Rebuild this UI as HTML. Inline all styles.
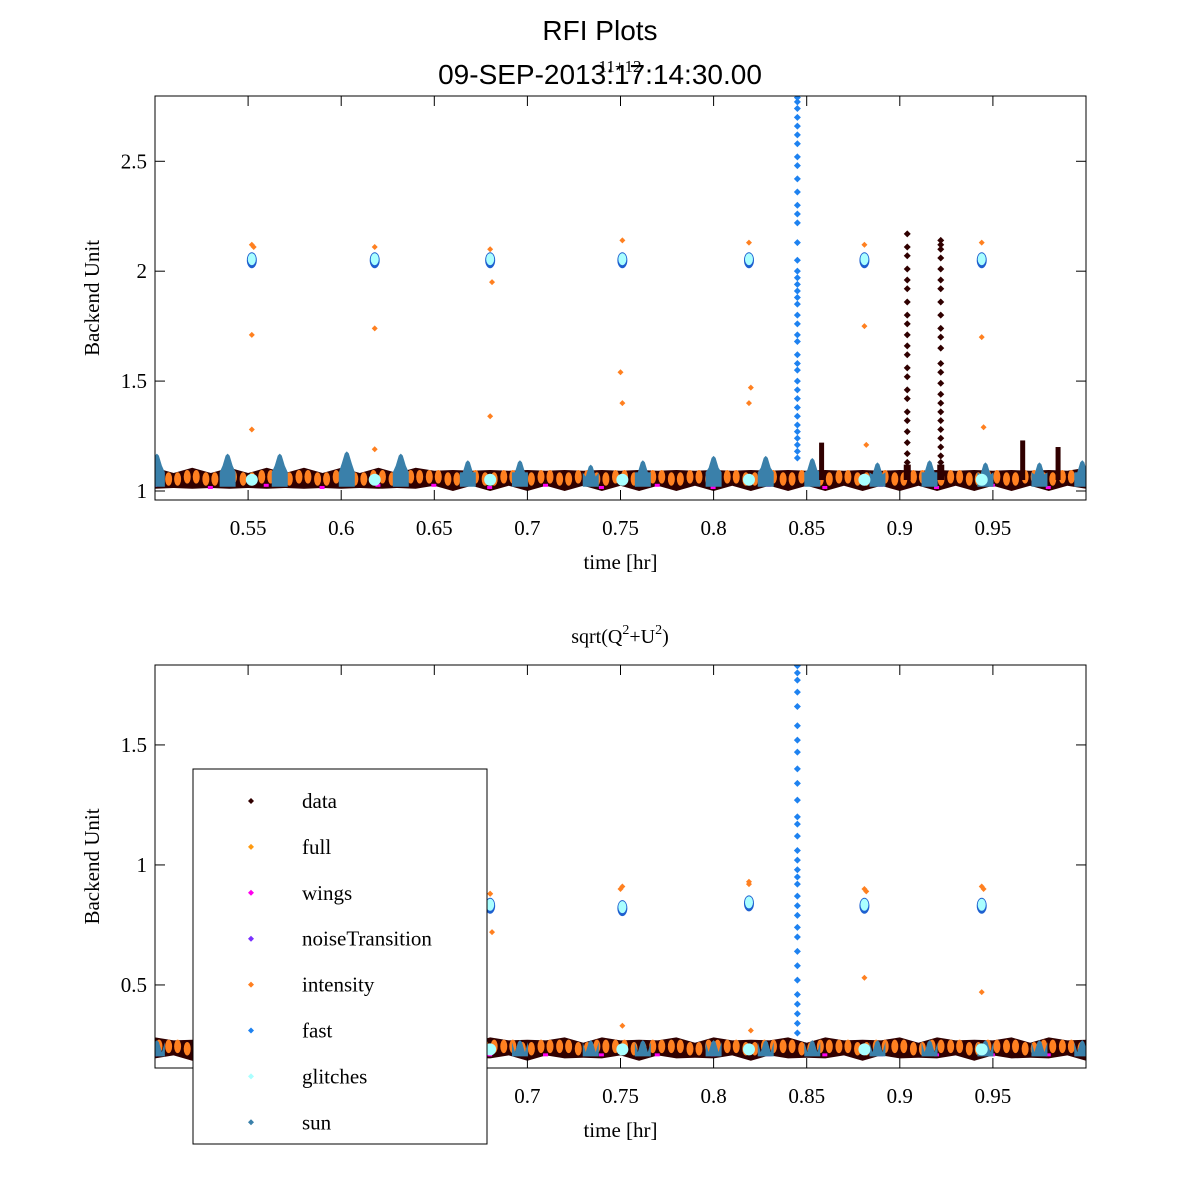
<!DOCTYPE html>
<html><head><meta charset="utf-8"><title>RFI Plots</title>
<style>
html,body{margin:0;padding:0;background:#fff;}
svg{display:block;}
text{font-family:"Liberation Serif",serif;fill:#000;}
.sans{font-family:"Liberation Sans",sans-serif;}
</style></head>
<body>
<svg id="fig" width="1200" height="1200" viewBox="0 0 1200 1200" xmlns="http://www.w3.org/2000/svg">
<rect width="1200" height="1200" fill="#fff"/>
<text class="sans" x="600" y="40" font-size="28" text-anchor="middle">RFI Plots</text>
<text class="sans" x="600" y="84" font-size="28" text-anchor="middle">09-SEP-2013:17:14:30.00</text>
<text x="620" y="72" font-size="17" text-anchor="middle">11+12</text>
<g id="top"></g>
<g id="bot"></g>
<text x="620" y="643" font-size="20" text-anchor="middle">sqrt(Q<tspan font-size="14" dy="-9">2</tspan><tspan dy="9">+U</tspan><tspan font-size="14" dy="-9">2</tspan><tspan dy="9">)</tspan></text>
<g id="legend"></g>
</svg>
<script>
// ---- data arrays ----
const bandT = [0.50,0.51,0.52,0.53,0.54,0.55,0.56,0.57,0.58,0.59,0.60,0.61,0.62,0.63,0.64,0.65,0.66,0.67,0.68,0.69,0.70,0.71,0.72,0.73,0.74,0.75,0.76,0.77,0.78,0.79,0.80,0.81,0.82,0.83,0.84,0.85,0.86,0.87,0.88,0.89,0.90,0.91,0.92,0.93,0.94,0.95,0.96,0.97,0.98,0.99,1.00];
const bandTop = [1.06,1.05,1.06,1.05,1.06,1.05,1.06,1.05,1.06,1.05,1.06,1.05,1.06,1.05,1.06,1.06,1.05,1.06,1.05,1.06,1.05,1.06,1.05,1.06,1.05,1.06,1.05,1.06,1.05,1.06,1.05,1.06,1.05,1.06,1.05,1.06,1.05,1.06,1.05,1.06,1.05,1.06,1.05,1.06,1.05,1.06,1.05,1.06,1.05,1.06,1.06];
const bandBot = [0.24,0.24,0.23,0.24,0.24,0.23,0.24,0.24,0.23,0.24,0.24,0.23,0.24,0.24,0.23,0.24,0.24,0.23,0.24,0.24,0.23,0.24,0.24,0.23,0.24,0.24,0.23,0.24,0.24,0.23,0.24,0.24,0.23,0.24,0.24,0.23,0.24,0.24,0.23,0.24,0.24,0.23,0.24,0.24,0.23,0.24,0.24,0.23,0.24,0.24,0.23];
const sunT = [0.501,0.539,0.567,0.603,0.632,0.668,0.696,0.734,0.762,0.800,0.828,0.853,0.888,0.916,0.946,0.975,0.998];
const sunPeakTop = [1.17,1.17,1.17,1.18,1.17,1.14,1.14,1.12,1.14,1.16,1.16,1.15,1.13,1.14,1.13,1.13,1.14];
const sunPeakBot = [0.27,0.27,0.27,0.28,0.27,0.27,0.27,0.27,0.27,0.27,0.27,0.27,0.27,0.27,0.27,0.27,0.27];
const clusterT = [0.552,0.618,0.680,0.751,0.819,0.881,0.944];
const clusterTop = [2.05,2.05,2.05,2.05,2.05,2.05,2.05];
const clusterBot = [0.83,0.83,0.83,0.82,0.84,0.83,0.83];
const outT = [0.552,0.552,0.553,0.618,0.618,0.680,0.681,0.750,0.751,0.819,0.820,0.881,0.882,0.944,0.945,0.552,0.618,0.680,0.751,0.819,0.881,0.944];
const outTop = [1.71,1.28,2.11,1.74,1.19,1.34,1.95,1.54,1.40,1.40,1.47,1.75,1.21,1.70,1.29,2.12,2.11,2.10,2.14,2.13,2.12,2.13];
const outBot = [0.90,0.88,0.92,0.89,0.30,0.88,0.72,0.90,0.33,0.92,0.31,0.53,0.89,0.47,0.90,0.89,0.88,0.88,0.91,0.93,0.90,0.91];
const fastT = 0.845;
const fastTop = [2.79,2.77,2.74,2.70,2.66,2.62,2.58,2.52,2.48,2.42,2.36,2.30,2.26,2.22,2.13,2.05,2.00,1.97,1.94,1.91,1.88,1.85,1.80,1.76,1.71,1.68,1.62,1.58,1.55,1.50,1.46,1.42,1.38,1.34,1.30,1.27,1.24,1.21,1.18,1.15];
const fastBot = [1.83,1.80,1.77,1.72,1.66,1.58,1.52,1.47,1.40,1.34,1.27,1.20,1.17,1.12,1.06,1.02,0.98,0.95,0.92,0.87,0.83,0.79,0.74,0.70,0.64,0.58,0.52,0.46,0.42,0.38,0.34,0.30];
const dataSpikeT = [0.904,0.922];
const dataSpikeA = [2.17,2.11,2.07,2.01,1.96,1.92,1.86,1.80,1.76,1.71,1.66,1.62,1.56,1.52,1.46,1.42,1.36,1.32,1.27,1.22,1.17,1.13];
const dataSpikeB = [2.14,2.12,2.10,2.06,2.01,1.96,1.92,1.86,1.80,1.74,1.70,1.65,1.58,1.54,1.49,1.44,1.40,1.36,1.32,1.28,1.24,1.20,1.16,1.13];
const smallSpikeT = [0.858,0.966,0.985];
const smallSpikeV = [1.22,1.23,1.20];
const xTicks = [0.55,0.6,0.65,0.7,0.75,0.8,0.85,0.9,0.95];
const xTickLabels = ["0.55","0.6","0.65","0.7","0.75","0.8","0.85","0.9","0.95"];
const yTicksTop = [1,1.5,2,2.5];
const yTickLabelsTop = ["1","1.5","2","2.5"];
const yTicksBot = [0.5,1,1.5];
const yTickLabelsBot = ["0.5","1","1.5"];
const legendLabels = ["data","full","wings","noiseTransition","intensity","fast","glitches","sun"];
const legendColors = ["#300000","#ff9a10","#ff00ee","#7a30ff","#ff7f20","#1e82f0","#aaffff","#3a80aa"];

const NS="http://www.w3.org/2000/svg";
function mk(parent,tag,attrs){const e=document.createElementNS(NS,tag);for(const k in attrs)e.setAttribute(k,attrs[k]);parent.appendChild(e);return e;}

function drawPlot(g,cfg){
  const {x0,x1,y0,y1,ymin,ymax}=cfg;
  const sx=t=>x0+(t-0.5)/(1.0-0.5)*(x1-x0);
  const sy=v=>y1-(v-ymin)/(ymax-ymin)*(y1-y0);
  const clip="clip"+cfg.id;
  const defs=mk(g,"defs",{});const cp=mk(defs,"clipPath",{id:clip});mk(cp,"rect",{x:x0,y:y0,width:x1-x0,height:y1-y0});
  const m=mk(g,"g",{"clip-path":"url(#"+clip+")"});
  
  
  const dia=(cx,cy,c,r)=>{const p=mk(m,"path",{d:`M${cx} ${cy-r}L${cx+r} ${cy}L${cx} ${cy+r}L${cx-r} ${cy}Z`,fill:c});return p;};
  const band=cfg.band;
  const bh=cfg.bandH;
  // dark data band (continuous polygon through band values)
  let up="",dn="";
  for(let i=0;i<bandT.length;i++){
    const x=sx(bandT[i]);
    up+=(i?"L":"M")+x+" "+(sy(band[i])-bh+((i%2)?2:-1));
  }
  for(let i=bandT.length-1;i>=0;i--){
    const x=sx(bandT[i]);
    dn+="L"+x+" "+(sy(band[i])+bh+((i%2)?-1:2));
  }
  const bp=mk(m,"path",{d:up+dn+"Z",fill:"#300000"});
  
  
  // orange blobs
  for(let i=0;i<bandT.length;i++){
    const cx=sx(bandT[i]);
    for(const off of [-5,4]){
      const e=mk(m,"ellipse",{cx:cx+off,cy:sy(band[i])-1,rx:3.5,ry:bh*0.75,fill:"#ff8020"});
      
      
    }
  }
  // magenta hints
  for(let i=0;i<bandT.length;i+=3){
    const e=mk(m,"rect",{x:sx(bandT[i])-3,y:sy(band[i])+bh-3,width:5,height:3,fill:"#ff00ee"});
    
    
  }
  // sun bumps
  const peaks=cfg.sunPeak;
  for(let i=0;i<sunT.length;i++){
    const cx=sx(sunT[i]), top=sy(peaks[i]), base=sy(band[0])+bh;
    const p=mk(m,"path",{d:`M${cx-8} ${base}L${cx-8} ${base-bh*1.6}L${cx-5} ${top+12}L${cx-2} ${top+2}L${cx} ${top}L${cx+2} ${top+2}L${cx+5} ${top+12}L${cx+8} ${base-bh*1.6}L${cx+8} ${base}Z`,fill:"#3a80aa"});
    
    
  }
  // glitch points on band
  for(let i=0;i<clusterT.length;i++){
    const e=mk(m,"ellipse",{cx:sx(clusterT[i]),cy:sy(band[0])+2,rx:6,ry:6,fill:"#aaffff"});
    
    
  }
  // clusters
  const cv=cfg.cluster;
  for(let i=0;i<clusterT.length;i++){
    const cx=sx(clusterT[i]),cy=sy(cv[i]);
    mk(m,"ellipse",{cx:cx,cy:cy,rx:5,ry:8,fill:"#1e60d0"});
    const e=mk(m,"ellipse",{cx:cx,cy:cy-1,rx:4,ry:6,fill:"#aaffff"});
    
    
  }
  const ov=cfg.out;
  for(let i=0;i<outT.length;i++){
    const p=dia(sx(outT[i]),sy(ov[i]),"#ff8020",3);
    
    
  }
  // fast spike
  const fv=cfg.fast;
  for(let i=0;i<fv.length;i++){
    const p=dia(sx(fastT),sy(fv[i]),"#1e82f0",3.5);
    
    
  }
  if(cfg.spikes){
    const arrs=[dataSpikeA,dataSpikeB];
    for(let s=0;s<dataSpikeT.length;s++){
      for(const v of arrs[s]){
        const p=dia(sx(dataSpikeT[s]),sy(v),"#300000",3.5);
        
        
      }
      const r=mk(m,"rect",{x:sx(dataSpikeT[s])-3.5,y:sy(1.12),width:7,height:sy(1.05)-sy(1.12),fill:"#300000"});
      
      
    }
    for(let i=0;i<smallSpikeT.length;i++){
      const r=mk(m,"rect",{x:sx(smallSpikeT[i])-2.5,y:sy(smallSpikeV[i]),width:5,height:sy(1.05)-sy(smallSpikeV[i]),fill:"#300000"});
      
      
    }
  }
  // axes box
  const box=mk(g,"rect",{x:x0,y:y0,width:x1-x0,height:y1-y0,fill:"none",stroke:"#000","stroke-width":1});
  
  
  for(let i=0;i<xTicks.length;i++){
    const x=sx(xTicks[i]);
    mk(g,"line",{x1:x,x2:x,y1:y1,y2:y1-10,stroke:"#000"});
    mk(g,"line",{x1:x,x2:x,y1:y0,y2:y0+10,stroke:"#000"});
    const t=mk(g,"text",{x:x,y:y1+35,"font-size":21,"text-anchor":"middle"});t.textContent=xTickLabels[i];
    
    
  }
  const yt=cfg.yt, yl=cfg.yl;
  for(let i=0;i<yt.length;i++){
    const y=sy(yt[i]);
    mk(g,"line",{x1:x0,x2:x0+10,y1:y,y2:y,stroke:"#000"});
    mk(g,"line",{x1:x1,x2:x1-10,y1:y,y2:y,stroke:"#000"});
    const t=mk(g,"text",{x:x0-8,y:y+7,"font-size":21,"text-anchor":"end"});t.textContent=yl[i];
    
    
  }
  const xl=mk(g,"text",{x:(x0+x1)/2,y:y1+69,"font-size":21,"text-anchor":"middle"});xl.textContent="time [hr]";
  
  
  const yy=(y0+y1)/2;
  const ya=mk(g,"text",{x:99,y:yy,"font-size":21,"text-anchor":"middle",transform:`rotate(-90 99 ${yy})`});ya.textContent="Backend Unit";
  
  
}
drawPlot(document.getElementById("top"),{id:"t",x0:155,x1:1086,y0:96,y1:500,ymin:0.959,ymax:2.797,band:bandTop,bandH:9,sunPeak:sunPeakTop,cluster:clusterTop,out:outTop,fast:fastTop,spikes:true,yt:yTicksTop,yl:yTickLabelsTop});
drawPlot(document.getElementById("bot"),{id:"b",x0:155,x1:1086,y0:665,y1:1068,ymin:0.154,ymax:1.833,band:bandBot,bandH:9,sunPeak:sunPeakBot,cluster:clusterBot,out:outBot,fast:fastBot,spikes:false,yt:yTicksBot,yl:yTickLabelsBot});

// legend
const lg=document.getElementById("legend");
const lb=mk(lg,"rect",{x:193,y:769,width:294,height:375,fill:"#fff",stroke:"#000","stroke-width":1});


for(let i=0;i<legendLabels.length;i++){
  const y=801+i*45.9;
  const d=mk(lg,"path",{d:`M251 ${y-3}L254 ${y}L251 ${y+3}L248 ${y}Z`,fill:legendColors[i]});
  
  
  const t=mk(lg,"text",{x:302,y:y+7,"font-size":21});t.textContent=legendLabels[i];
  
  
}
</script>
</body></html>
